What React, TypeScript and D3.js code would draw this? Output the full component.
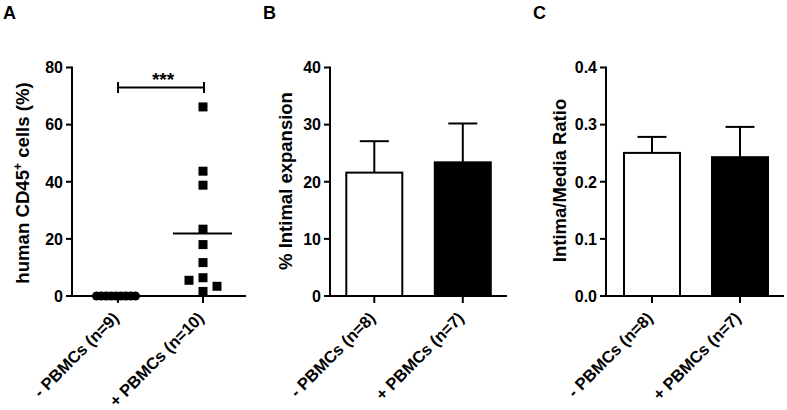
import React from "react";
import * as d3 from "d3";

// ---- Data ----
const groupsA = ["- PBMCs (n=9)", "+ PBMCs (n=10)"];
const valuesA_neg = [0, 0, 0, 0, 0, 0, 0, 0, 0];
const valuesA_pos = [66.2, 43.7, 38.8, 23.4, 18.0, 11.7, 6.4, 5.5, 3.4, 1.6];
const ticksA = [0, 20, 40, 60, 80];

const groupsB = ["- PBMCs (n=8)", "+ PBMCs (n=7)"];
const meansB = [21.6, 23.4];
const errB = [5.5, 6.8];
const ticksB = [0, 10, 20, 30, 40];

const groupsC = ["- PBMCs (n=8)", "+ PBMCs (n=7)"];
const meansC = [0.2505, 0.243];
const errC = [0.028, 0.053];
const ticksC = [0, 0.1, 0.2, 0.3, 0.4];

const barFills = ["#ffffff", "#000000"];

const FONT = "'Liberation Sans', Arial, Helvetica, sans-serif";
const TOP = 67.5;
const BOTTOM = 296;

function YAxis({ x, y, ticks, fmt }: any) {
  return (
    <g>
      <line x1={x} x2={x} y1={y(ticks[ticks.length - 1]) - 1} y2={BOTTOM + 1} stroke="#000" strokeWidth={2} />
      {ticks.map((t: number) => (
        <g key={t}>
          <line x1={x - 6} x2={x} y1={y(t)} y2={y(t)} stroke="#000" strokeWidth={2} />
          <text x={x - 9} y={y(t)} dy="0.36em" textAnchor="end" fontFamily={FONT} fontWeight="bold" fontSize={16}>
            {fmt(t)}
          </text>
        </g>
      ))}
    </g>
  );
}

function XAxis({ x0, x1, xs, labels }: any) {
  return (
    <g>
      <line x1={x0 - 1} x2={x1} y1={BOTTOM} y2={BOTTOM} stroke="#000" strokeWidth={2} />
      {labels.map((l: string) => (
        <g key={l}>
          <line x1={xs(l)} x2={xs(l)} y1={BOTTOM} y2={BOTTOM + 7} stroke="#000" strokeWidth={2} />
          <text
            transform={`translate(${xs(l) + 2},${BOTTOM + 23}) rotate(-45)`}
            textAnchor="end"
            fontFamily={FONT}
            fontWeight="bold"
            fontSize={16.5}
          >
            {l}
          </text>
        </g>
      ))}
    </g>
  );
}

function PanelLetter({ x, t }: any) {
  return (
    <text x={x} y={19} fontFamily={FONT} fontWeight="bold" fontSize={18}>
      {t}
    </text>
  );
}

function PanelA() {
  const axisX = 72;
  const endX = 246;
  const y = d3.scaleLinear().domain([0, 80]).range([BOTTOM, TOP]);
  const xs = d3.scalePoint<string>().domain(groupsA).range([118, 203]);
  const sq = 9;
  const r = 4.6;
  // simple swarm for the + group
  const sorted = [...valuesA_pos].sort((a, b) => b - a);
  const placed: { v: number; dx: number }[] = [];
  const offs = [0, -14, 14, -28, 28];
  sorted.forEach((v) => {
    for (const dx of offs) {
      const hit = placed.some((p) => p.dx === dx && Math.abs(y(p.v) - y(v)) < sq);
      if (!hit) {
        placed.push({ v, dx });
        break;
      }
    }
  });
  const mean = d3.mean(valuesA_pos) as number;
  const cx0 = (xs(groupsA[0]) as number) - 2;
  const n0 = valuesA_neg.length;
  return (
    <g>
      <PanelLetter x={3} t="A" />
      <YAxis x={axisX} y={y} ticks={ticksA} fmt={(t: number) => String(t)} />
      <XAxis x0={axisX} x1={endX} xs={xs} labels={groupsA} />
      {valuesA_neg.map((v, i) => (
        <circle key={i} cx={cx0 + (i - (n0 - 1) / 2) * 4.85} cy={y(v)} r={r} fill="#000" />
      ))}
      {placed.map((p, i) => (
        <rect key={i} x={(xs(groupsA[1]) as number) + p.dx - sq / 2} y={y(p.v) - sq / 2} width={sq} height={sq} fill="#000" />
      ))}
      <line x1={(xs(groupsA[1]) as number) - 30} x2={(xs(groupsA[1]) as number) + 29} y1={y(mean)} y2={y(mean)} stroke="#000" strokeWidth={2} />
      {/* significance bracket */}
      <line x1={xs(groupsA[0])} x2={(xs(groupsA[1]) as number) + 1} y1={87.5} y2={87.5} stroke="#000" strokeWidth={2} />
      <line x1={xs(groupsA[0])} x2={xs(groupsA[0])} y1={82} y2={93} stroke="#000" strokeWidth={2} />
      <line x1={(xs(groupsA[1]) as number) + 1} x2={(xs(groupsA[1]) as number) + 1} y1={82} y2={93} stroke="#000" strokeWidth={2} />
      <text x={163} y={86} textAnchor="middle" fontFamily={FONT} fontWeight="bold" fontSize={19}>***</text>
      <text transform={`translate(29,183) rotate(-90)`} textAnchor="middle" fontFamily={FONT} fontWeight="bold" fontSize={18.6}>
        human CD45<tspan baselineShift="super" fontSize={12}>+</tspan> cells (%)
      </text>
    </g>
  );
}

function BarPanel({ letter, letterX, axisX, endX, groups, means, errs, domainMax, ticks, fmt, g0, g1, label, labelX, labelY }: any) {
  const y = d3.scaleLinear().domain([0, domainMax]).range([BOTTOM, TOP]);
  const xs = d3.scalePoint<string>().domain(groups).range([g0, g1]);
  const bw = 56;
  const cap = 29;
  return (
    <g>
      <PanelLetter x={letterX} t={letter} />
      {groups.map((g: string, i: number) => {
        const cx = xs(g) as number;
        return (
          <g key={g}>
            <line x1={cx} x2={cx} y1={y(means[i])} y2={y(means[i] + errs[i])} stroke="#000" strokeWidth={2} />
            <line x1={cx - cap / 2} x2={cx + cap / 2} y1={y(means[i] + errs[i])} y2={y(means[i] + errs[i])} stroke="#000" strokeWidth={2} />
            <rect x={cx - bw / 2} y={y(means[i])} width={bw} height={BOTTOM - y(means[i])} fill={barFills[i]} stroke="#000" strokeWidth={2} />
          </g>
        );
      })}
      <YAxis x={axisX} y={y} ticks={ticks} fmt={fmt} />
      <XAxis x0={axisX} x1={endX} xs={xs} labels={groups} />
      <text transform={`translate(${labelX},${labelY}) rotate(-90)`} textAnchor="middle" fontFamily={FONT} fontWeight="bold" fontSize={18.5}>
        {label}
      </text>
    </g>
  );
}

export default function App() {
  return (
    <svg width={787} height={410} style={{ position: "absolute", left: 0, top: 0, background: "#fff" }}>
      <rect width={787} height={410} fill="#fff" />
      <PanelA />
      <BarPanel
        letter="B"
        letterX={263}
        axisX={330}
        endX={507}
        groups={groupsB}
        means={meansB}
        errs={errB}
        domainMax={40}
        ticks={ticksB}
        fmt={(t: number) => String(t)}
        g0={374.3}
        g1={462.8}
        label="% Intimal expansion"
        labelX={291.5}
        labelY={181}
      />
      <BarPanel
        letter="C"
        letterX={533}
        axisX={606}
        endX={784}
        groups={groupsC}
        means={meansC}
        errs={errC}
        domainMax={0.4}
        ticks={ticksC}
        fmt={(t: number) => d3.format(".1f")(t)}
        g0={652}
        g1={740}
        label="Intima/Media Ratio"
        labelX={566}
        labelY={180.5}
      />
    </svg>
  );
}
